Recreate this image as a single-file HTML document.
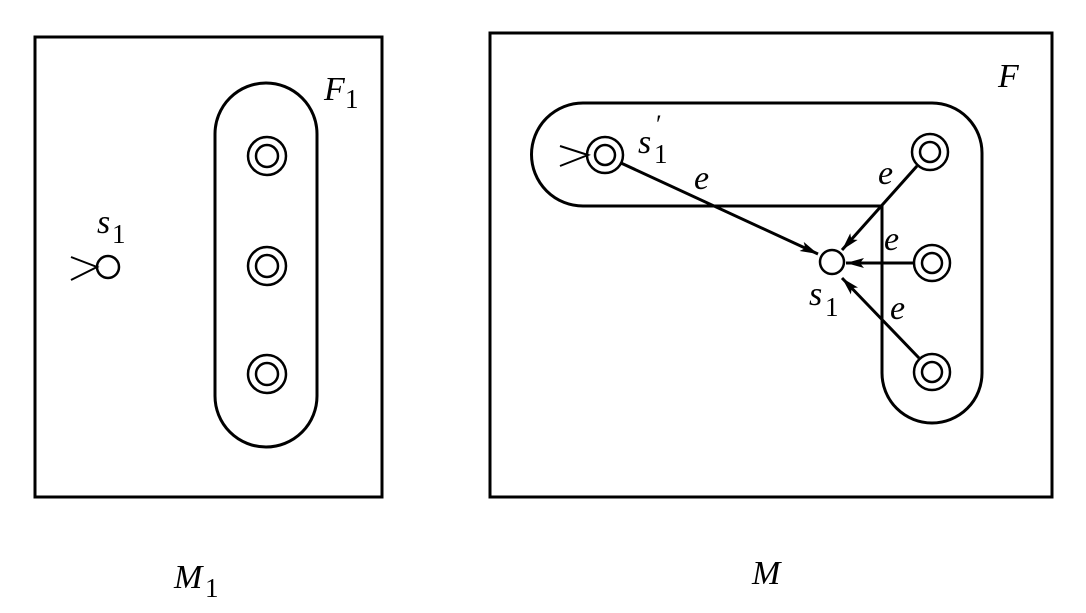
<!DOCTYPE html>
<html><head><meta charset="utf-8"><style>
body{margin:0;background:#fff;}
</style></head><body>
<svg width="1086" height="608" viewBox="0 0 1086 608" xmlns="http://www.w3.org/2000/svg">
<defs><marker id="a" viewBox="0 0 18 10" refX="18" refY="5" markerWidth="18" markerHeight="10" markerUnits="userSpaceOnUse" orient="auto"><path d="M0,0 L18,5 L0,10 L4,5 z" fill="#000"/></marker></defs>
<g fill="none" stroke="#000" stroke-width="3">
<rect x="35" y="37" width="347" height="460"/>
<rect x="215" y="83" width="102" height="364" rx="51" ry="51"/>
<rect x="490" y="33" width="562" height="464"/>
<path d="M583,103 H932 A50,50 0 0 1 982,153 V373 A50,50 0 0 1 882,373 V206 H583 A51.5,51.5 0 0 1 583,103 Z"/>
</g>
<g fill="none" stroke="#000" stroke-width="2.5">
<circle cx="267" cy="156" r="19"/><circle cx="267" cy="156" r="11"/>
<circle cx="267" cy="266" r="19"/><circle cx="267" cy="266" r="11"/>
<circle cx="267" cy="374" r="19"/><circle cx="267" cy="374" r="11"/>
<circle cx="108" cy="267" r="11"/>
<circle cx="605" cy="155" r="18"/><circle cx="605" cy="155" r="10"/>
<circle cx="930" cy="152" r="18"/><circle cx="930" cy="152" r="10"/>
<circle cx="932" cy="263" r="18"/><circle cx="932" cy="263" r="10"/>
<circle cx="932" cy="372" r="18"/><circle cx="932" cy="372" r="10"/>
<circle cx="832" cy="262" r="12"/>
</g>
<g stroke="#000" stroke-width="2" fill="none">
<path d="M71,257 L97,267 L71,280"/>
<path d="M560,146 L588,155 L560,166"/>
</g>
<g stroke="#000" stroke-width="3" marker-end="url(#a)">
<line x1="621" y1="163" x2="818" y2="254"/>
<line x1="917" y1="166" x2="842" y2="250"/>
<line x1="915" y1="263" x2="846" y2="263"/>
<line x1="919" y1="358" x2="842" y2="278"/>
</g>
<g font-family="Liberation Serif, serif" font-style="italic" fill="#000">
<text x="97" y="233" font-size="34">s</text><text x="112" y="243" font-size="27" font-style="normal">1</text>
<text x="324" y="100" font-size="34">F</text><text x="345" y="108" font-size="27" font-style="normal">1</text>
<text x="638" y="153" font-size="34">s</text><text x="656" y="133" font-size="26" font-style="normal">′</text><text x="654" y="163" font-size="27" font-style="normal">1</text>
<text x="998" y="87" font-size="34">F</text>
<text x="694" y="189" font-size="34">e</text>
<text x="878" y="184" font-size="34">e</text>
<text x="884" y="250" font-size="34">e</text>
<text x="890" y="319" font-size="34">e</text>
<text x="809" y="305" font-size="34">s</text><text x="825" y="316" font-size="27" font-style="normal">1</text>
<text x="174" y="588" font-size="34">M</text><text x="205" y="597" font-size="27" font-style="normal">1</text>
<text x="752" y="584" font-size="34">M</text>
</g>
</svg>
</body></html>
